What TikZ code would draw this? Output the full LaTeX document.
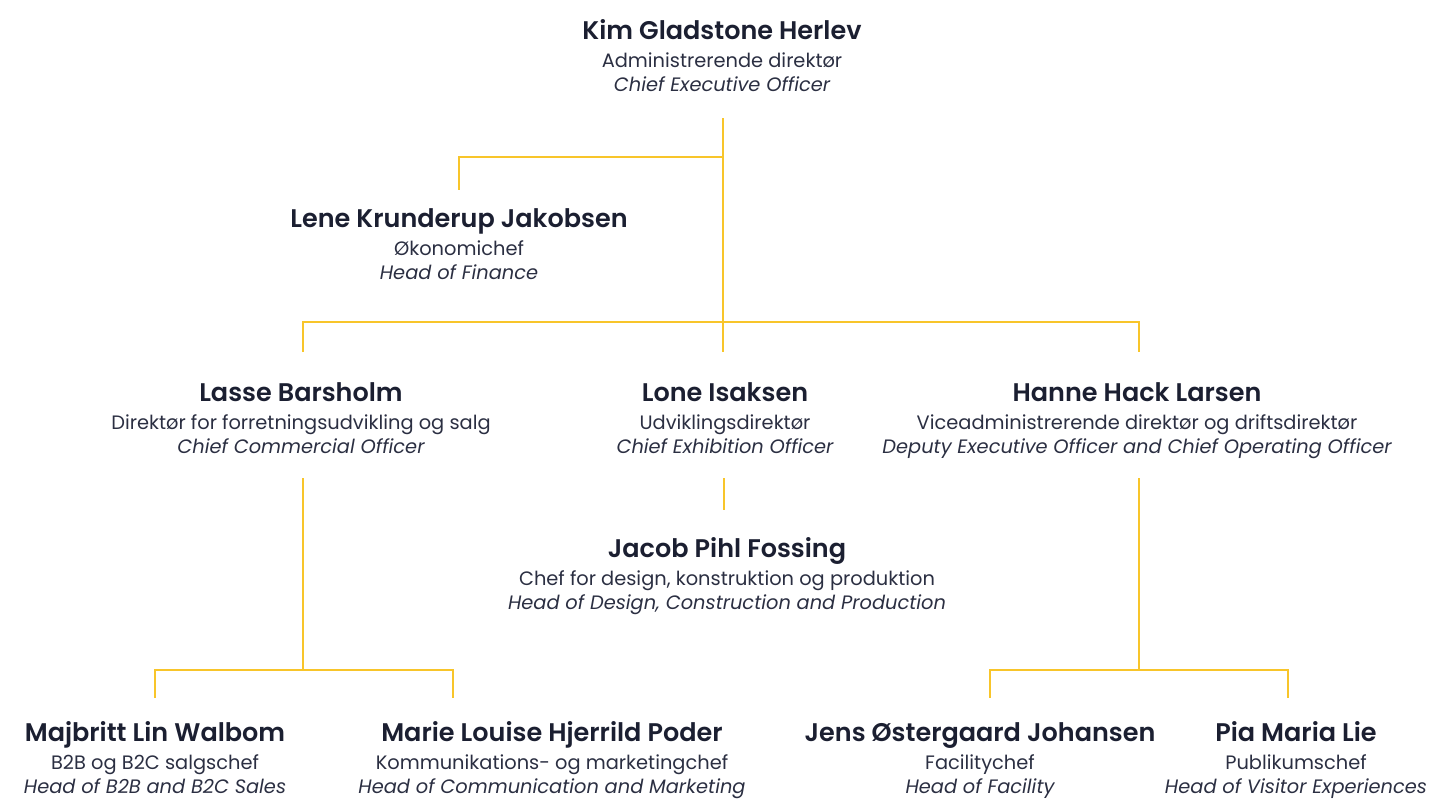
\documentclass[tikz,border=0pt]{standalone}
\usepackage{fontspec}
\setmainfont{Poppins}
\newfontfamily\namefont{Poppins SemiBold}
\definecolor{ink}{HTML}{1B1F31}
\definecolor{inksoft}{HTML}{2B2F42}
\definecolor{gold}{HTML}{F8C52A}
\tikzset{
  person/.style={anchor=north, inner sep=0pt, align=center, text=inksoft,
    font=\fontsize{19.4}{24}\selectfont},
  conn/.style={draw=gold, line width=2.4pt, line cap=butt, line join=miter},
}
\newcommand{\pname}[1]{{\fontsize{25.5}{24}\namefont\color{ink}\rule{0pt}{24pt}#1}\\[4pt]}
\newcommand{\prole}[1]{#1\\}
\newcommand{\peng}[1]{\itshape #1}
\begin{document}
\begin{tikzpicture}[x=1pt,y=-1pt]
\useasboundingbox (0,0) rectangle (1430,800);
% people
\node[person] (ceo) at (722,15) {\pname{Kim Gladstone Herlev}\prole{Administrerende direktør}\peng{Chief Executive Officer}};
\node[person] (lene) at (459,203) {\pname{Lene Krunderup Jakobsen}\prole{Økonomichef}\peng{Head of Finance}};
\node[person] (lasse) at (301,377) {\pname{Lasse Barsholm}\prole{Direktør for forretningsudvikling og salg}\peng{Chief Commercial Officer}};
\node[person] (lone) at (725,377) {\pname{Lone Isaksen}\prole{Udviklingsdirektør}\peng{Chief Exhibition Officer}};
\node[person] (hanne) at (1137,377) {\pname{Hanne Hack Larsen}\prole{Viceadministrerende direktør og driftsdirektør}\peng{Deputy Executive Officer and Chief Operating Officer}};
\node[person] (jacob) at (727,533) {\pname{Jacob Pihl Fossing}\prole{Chef for design, konstruktion og produktion}\peng{Head of Design, Construction and Production}};
\node[person] (maj) at (155,717) {\pname{Majbritt Lin Walbom}\prole{B2B og B2C salgschef}\peng{Head of B2B and B2C Sales}};
\node[person] (marie) at (552,717) {\pname{Marie Louise Hjerrild Poder}\prole{Kommunikations- og marketingchef}\peng{Head of Communication and Marketing}};
\node[person] (jens) at (980,717) {\pname{Jens Østergaard Johansen}\prole{Facilitychef}\peng{Head of Facility}};
\node[person] (pia) at (1296,717) {\pname{Pia Maria Lie}\prole{Publikumschef}\peng{Head of Visitor Experiences}};
% connector points
\coordinate (ceo-out) at (723,118);
\coordinate (lene-in) at (459,190);
\coordinate (lasse-in) at (303,352);
\coordinate (lone-in) at (723,352);
\coordinate (hanne-in) at (1139,352);
\coordinate (lasse-out) at (303,478);
\coordinate (lone-out) at (724,478);
\coordinate (hanne-out) at (1139,478);
\coordinate (jacob-in) at (724,510);
\coordinate (maj-in) at (155,698);
\coordinate (marie-in) at (453,698);
\coordinate (jens-in) at (990,698);
\coordinate (pia-in) at (1288,698);
% connectors
\draw[conn] (ceo-out) -- (lone-in);
\draw[conn] (ceo-out |- 0,157) -| (lene-in);
\draw[conn] (lasse-in) |- (0,322 -| ceo-out) -| (hanne-in);
\draw[conn] (lone-out) -- (jacob-in);
\draw[conn] (lasse-out) -- (lasse-out |- 0,670);
\draw[conn] (maj-in) |- (0,670 -| lasse-out) -| (marie-in);
\draw[conn] (hanne-out) -- (hanne-out |- 0,670);
\draw[conn] (jens-in) |- (0,670 -| hanne-out) -| (pia-in);
\end{tikzpicture}
\end{document}
